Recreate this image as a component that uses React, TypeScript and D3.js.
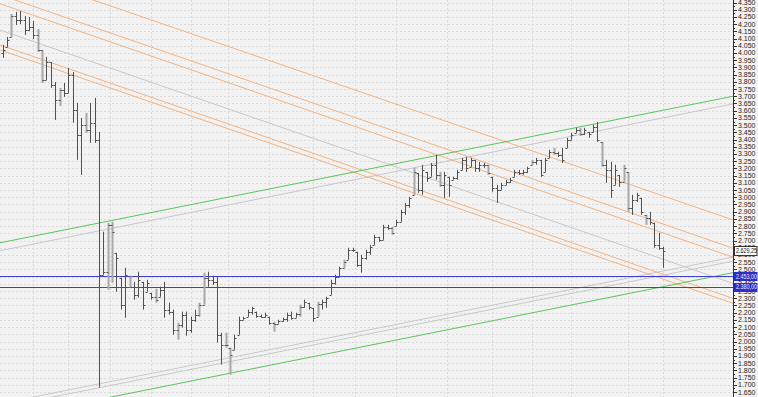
import React from "react";
import * as d3 from "d3";

const highs = [4.056,4.111,4.270,4.284,4.291,4.256,4.249,4.222,4.166,4.021,3.973,3.938,3.799,3.758,3.792,3.896,3.869,3.654,3.550,3.585,3.654,3.689,3.453,2.761,2.823,2.830,2.615,2.442,2.511,2.456,2.414,2.484,2.414,2.428,2.338,2.366,2.380,2.414,2.269,2.221,2.130,2.207,2.207,2.172,2.221,2.269,2.477,2.484,2.456,2.449,2.061,2.061,1.957,2.047,2.172,2.172,2.221,2.241,2.207,2.186,2.200,2.172,2.137,2.151,2.165,2.200,2.207,2.200,2.255,2.290,2.269,2.234,2.276,2.290,2.310,2.428,2.463,2.518,2.567,2.650,2.650,2.622,2.601,2.636,2.670,2.740,2.726,2.809,2.809,2.795,2.844,2.913,2.961,3.003,3.204,3.169,3.225,3.176,3.238,3.294,3.176,3.176,3.142,3.142,3.190,3.273,3.280,3.273,3.259,3.245,3.238,3.225,3.142,3.086,3.100,3.121,3.135,3.190,3.190,3.190,3.211,3.259,3.273,3.259,3.273,3.329,3.342,3.315,3.342,3.412,3.446,3.481,3.481,3.481,3.453,3.502,3.522,3.384,3.259,3.245,3.225,3.155,3.225,3.176,3.017,3.031,2.996,2.878,2.899,2.823,2.754,2.657];
const lows = [3.966,4.042,4.111,4.194,4.201,4.125,4.153,4.097,4.007,3.792,3.813,3.758,3.536,3.633,3.696,3.723,3.516,3.259,3.155,3.446,3.377,3.377,1.680,2.463,2.359,2.407,2.345,2.221,2.165,2.373,2.290,2.304,2.221,2.345,2.290,2.269,2.310,2.165,2.186,2.047,2.013,2.096,2.040,2.061,2.137,2.172,2.255,2.380,2.394,1.992,1.840,1.957,1.770,1.943,2.047,2.151,2.172,2.186,2.165,2.165,2.165,2.117,2.068,2.124,2.137,2.137,2.151,2.165,2.172,2.234,2.221,2.137,2.172,2.221,2.234,2.324,2.394,2.449,2.511,2.567,2.622,2.518,2.477,2.567,2.601,2.670,2.691,2.705,2.774,2.740,2.802,2.830,2.878,2.927,3.017,3.031,3.017,3.107,3.142,3.121,3.072,2.996,3.003,3.121,3.121,3.190,3.176,3.211,3.176,3.176,3.204,3.155,3.038,2.961,3.052,3.086,3.100,3.142,3.155,3.155,3.169,3.225,3.225,3.142,3.176,3.273,3.294,3.280,3.238,3.342,3.398,3.446,3.425,3.432,3.412,3.453,3.384,3.211,3.100,2.996,3.086,3.072,3.107,2.899,2.878,2.968,2.878,2.809,2.809,2.650,2.636,2.511];
const opens = [4.000,4.042,4.111,4.256,4.229,4.229,4.160,4.180,4.125,4.021,3.813,3.938,3.778,3.675,3.744,3.723,3.848,3.605,3.432,3.502,3.467,3.516,3.398,2.463,2.484,2.809,2.615,2.442,2.255,2.456,2.380,2.324,2.414,2.345,2.338,2.310,2.310,2.359,2.221,2.207,2.082,2.117,2.186,2.082,2.151,2.186,2.255,2.442,2.428,2.414,2.047,1.978,1.957,1.943,2.047,2.151,2.172,2.207,2.207,2.179,2.172,2.172,2.130,2.124,2.144,2.158,2.186,2.165,2.193,2.241,2.269,2.234,2.172,2.262,2.276,2.324,2.407,2.449,2.511,2.567,2.636,2.622,2.532,2.580,2.622,2.670,2.726,2.705,2.795,2.788,2.802,2.830,2.899,2.947,3.017,3.169,3.052,3.176,3.142,3.225,3.155,3.086,3.142,3.121,3.135,3.190,3.259,3.211,3.259,3.204,3.225,3.225,3.142,3.065,3.052,3.086,3.107,3.142,3.176,3.169,3.176,3.225,3.245,3.259,3.176,3.273,3.315,3.308,3.294,3.342,3.398,3.446,3.467,3.439,3.453,3.453,3.488,3.384,3.225,3.190,3.086,3.155,3.107,3.176,2.927,2.982,2.996,2.878,2.858,2.823,2.670,2.650];
const closes = [4.021,4.090,4.256,4.229,4.229,4.160,4.180,4.125,4.021,3.813,3.938,3.778,3.675,3.744,3.723,3.848,3.605,3.432,3.502,3.467,3.516,3.398,2.463,2.484,2.809,2.761,2.580,2.255,2.463,2.380,2.324,2.428,2.255,2.407,2.310,2.290,2.359,2.221,2.207,2.082,2.117,2.186,2.082,2.151,2.186,2.255,2.442,2.428,2.414,2.047,1.978,1.978,1.909,2.027,2.151,2.165,2.207,2.234,2.179,2.172,2.186,2.130,2.124,2.144,2.158,2.186,2.165,2.193,2.241,2.276,2.241,2.165,2.262,2.276,2.304,2.407,2.449,2.511,2.553,2.636,2.636,2.532,2.580,2.622,2.657,2.726,2.705,2.795,2.788,2.754,2.830,2.899,2.947,2.996,3.176,3.052,3.190,3.135,3.225,3.155,3.086,3.155,3.086,3.135,3.176,3.259,3.204,3.259,3.204,3.225,3.225,3.169,3.065,3.052,3.086,3.107,3.121,3.176,3.169,3.176,3.204,3.245,3.259,3.155,3.259,3.315,3.308,3.294,3.259,3.398,3.432,3.467,3.439,3.467,3.439,3.488,3.398,3.225,3.190,3.052,3.190,3.107,3.204,2.927,2.982,3.017,2.899,2.858,2.830,2.670,2.650,2.629];
const grayBars = [2,8,9,13,19,24,25,29,35,40,45,46,51,52,62,68,72,78,89,94,100,111,121,126,132,137,142,143,147];

// trend lines: [index0, price0, index1, price1]
const orangeLines = [
  [0, 4.583, 150, 3.020],
  [0, 4.397, 150, 2.825],
  [0, 4.335, 150, 2.763],
  [0, 4.049, 150, 2.477],
  [0, 4.015, 150, 2.443],
];
const greenLines = [
  [0, 2.688, 150, 3.597],
  [0, 1.465, 150, 2.374],
];
const grayLines = [
  [0, 4.153, 150, 2.581],
  [0, 2.633, 150, 3.544],
  [0, 1.546, 150, 2.454],
  [0, 1.573, 150, 2.482],
];
const blueLevels = [2.453, 2.380];
const blueLabels = ["2.453,00", "2.380,00"];
const lastPrice = 2.629;
const lastLabel = "2.629,25";
const vGridIdx = [7, 15, 24.5, 34, 43, 51.5, 61, 71, 80.5, 90, 101.5, 112, 121, 130, 143, 151];
const yMin = 1.65, yMax = 4.35, yStep = 0.05;

export default function App() {
  const W = 758, H = 397, axisX = 733;
  const x = d3.scaleLinear().domain([0, 151]).range([2.7, 663]);
  const y = d3.scaleLinear().domain([yMin, yMax]).range([392, 2.5]);
  const nTicks = Math.round((yMax - yMin) / yStep);
  const ticks = d3.range(nTicks + 1).map((k) => yMin + k * yStep);
  const minor = d3.range(nTicks).map((k) => yMin + (k + 0.5) * yStep);
  const i0 = x.invert(0), i1 = x.invert(axisX);
  const seg = (l: number[]) => {
    const s = (l[3] - l[1]) / (l[2] - l[0]);
    const p = (i: number) => l[1] + s * (i - l[0]);
    return { x1: 0, y1: y(p(i0)), x2: axisX, y2: y(p(i1)) };
  };
  const grayset = new Set(grayBars);
  const font = "'Liberation Sans', Arial, sans-serif";
  const ry = (v: number) => Math.round(y(v)) + 0.5;
  return (
    <svg width={W} height={H} style={{ position: "absolute", left: 0, top: 0, display: "block" }} fontFamily={font}>
      <defs>
        <clipPath id="plot"><rect x={0} y={0} width={axisX} height={H} /></clipPath>
      </defs>
      <rect x={0} y={0} width={W} height={H} fill="#f2f2f2" />
      <g clipPath="url(#plot)">
        {ticks.map((t, k) => (
          <line key={"hg" + k} x1={0} x2={axisX} y1={ry(t)} y2={ry(t)} stroke="#dadada" strokeDasharray="2,2" />
        ))}
        {vGridIdx.map((g, k) => (
          <line key={"vg" + k} x1={Math.round(x(g)) + 0.5} x2={Math.round(x(g)) + 0.5} y1={0} y2={H} stroke="#dadada" strokeDasharray="2,2" />
        ))}
        {grayLines.map((l, k) => <line key={"gl" + k} {...seg(l)} stroke="#c8c8c8" strokeWidth={1} />)}
        {orangeLines.map((l, k) => <line key={"ol" + k} {...seg(l)} stroke="#f0b482" strokeWidth={1} />)}
        {greenLines.map((l, k) => <line key={"grl" + k} {...seg(l)} stroke="#5cc45c" strokeWidth={1} />)}
        {blueLevels.map((v, k) => (
          <line key={"bl" + k} x1={0} x2={axisX} y1={ry(v)} y2={ry(v)} stroke="#4040d0" strokeWidth={1} />
        ))}
        {highs.map((h, i) => {
          const cx = Math.round(x(i)) + 0.5;
          const g = grayset.has(i);
          return (
            <g key={"b" + i}>
              <line x1={cx} x2={cx} y1={y(h)} y2={y(lows[i])} stroke={g ? "#a8a8a8" : "#505050"} strokeWidth={g ? 2 : 1} />
              <line x1={cx - 2} x2={cx} y1={ry(opens[i])} y2={ry(opens[i])} stroke="#505050" />
              <line x1={cx} x2={cx + 2} y1={ry(closes[i])} y2={ry(closes[i])} stroke="#505050" />
            </g>
          );
        })}
      </g>
      <line x1={axisX + 0.5} x2={axisX + 0.5} y1={0} y2={H} stroke="#333" />
      {ticks.map((t, k) => (
        <g key={"t" + k}>
          <line x1={axisX} x2={axisX + 4} y1={ry(t)} y2={ry(t)} stroke="#333" />
          <text x={axisX + 5} y={y(t) + 2.5} fontSize={7} fill="#222">{t.toFixed(3)}</text>
        </g>
      ))}
      {minor.map((t, k) => (
        <line key={"m" + k} x1={axisX} x2={axisX + 2} y1={ry(t)} y2={ry(t)} stroke="#333" />
      ))}
      <g>
        <rect x={axisX + 1.5} y={Math.round(y(lastPrice)) - 4.5} width={W - axisX - 2.5} height={9} fill="#ffffff" stroke="#333" />
        <text x={axisX + 3} y={y(lastPrice) + 2.5} fontSize={7} textLength={21} lengthAdjust="spacingAndGlyphs" fill="#111">{lastLabel}</text>
      </g>
      {blueLevels.map((v, k) => (
        <g key={"bb" + k}>
          <rect x={axisX + 1} y={Math.round(y(v)) - 4} width={W - axisX - 1.5} height={9} fill="#2d2dc8" />
          <text x={axisX + 3} y={y(v) + 2.5} fontSize={7} textLength={21} lengthAdjust="spacingAndGlyphs" fill="#e8e8ff">{blueLabels[k]}</text>
        </g>
      ))}
    </svg>
  );
}
